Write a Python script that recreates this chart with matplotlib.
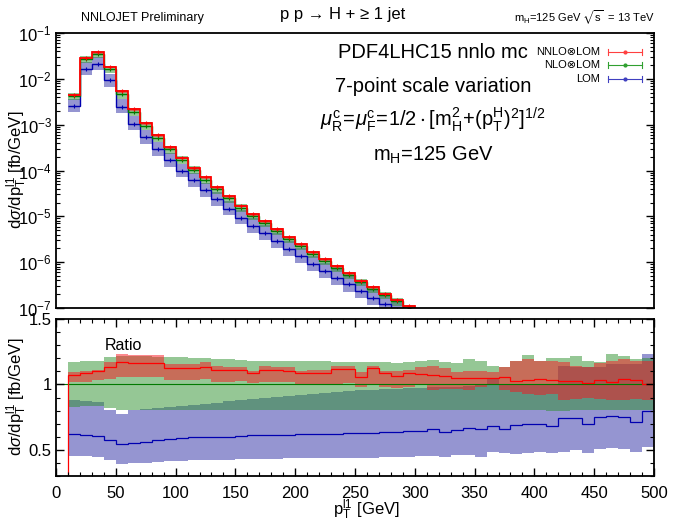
import numpy as np
import matplotlib
matplotlib.use('Agg')
import matplotlib.pyplot as plt
from matplotlib.ticker import (MultipleLocator, LogLocator, FixedLocator,
                               NullFormatter, FuncFormatter)

plt.rcParams['font.family'] = ['Liberation Sans', 'DejaVu Sans']
plt.rcParams['mathtext.fontset'] = 'custom'
plt.rcParams['mathtext.rm'] = 'Liberation Sans'
plt.rcParams['mathtext.it'] = 'Liberation Sans:italic'
plt.rcParams['mathtext.bf'] = 'Liberation Sans:bold'
plt.rcParams['mathtext.fallback'] = 'stixsans'

# ---------------- data ----------------
# pT bin edges (GeV), 10 GeV bins from 10 to 500
pt_edges = np.arange(10, 510, 10)

# NLO central cross section (fb/GeV) for the bins shown in the upper panel (10..310 GeV)
nlo_xs = [4.17e-3, 2.69e-2, 3.43e-2, 1.62e-2, 4.57e-3, 1.91e-3, 9.5e-4, 5.1e-4,
          2.9e-4, 1.7e-4, 1.02e-4, 6.2e-5, 3.9e-5, 2.45e-5, 1.55e-5, 1.02e-5,
          7.1e-6, 4.8e-6, 3.2e-6, 2.25e-6, 1.5e-6, 1.05e-6, 7.4e-7, 5.2e-7,
          3.7e-7, 2.6e-7, 1.9e-7, 1.4e-7, 1.0e-7, 7.2e-8]

# ratios to NLO central, 49 bins 10..500 GeV
ratio_nnlo = [1.073, 1.085, 1.100, 1.136, 1.169, 1.161, 1.161, 1.161, 1.126, 1.126,
              1.126, 1.136, 1.110, 1.110, 1.110, 1.090, 1.110, 1.110, 1.105, 1.085,
              1.085, 1.090, 1.116, 1.116, 1.055, 1.126, 1.085, 1.068, 1.085, 1.080,
              1.073, 1.068, 1.050, 1.050, 1.047, 1.047, 1.055, 1.025, 1.030, 1.043,
              1.030, 1.025, 1.025, 1.012, 1.030, 1.017, 1.043, 1.035, 1.005]
ratio_nnlo_bin0 = 0.0   # 0-10 GeV bin (drawn below the axis range)
ratio_nnlo_hi = [1.093, 1.100, 1.111, 1.169, 1.232, 1.227, 1.227, 1.227, 1.156, 1.156,
                 1.156, 1.169, 1.143, 1.136, 1.136, 1.105, 1.143, 1.136, 1.131, 1.105,
                 1.111, 1.111, 1.143, 1.143, 1.093, 1.143, 1.105, 1.105, 1.111, 1.131,
                 1.143, 1.126, 1.093, 1.105, 1.105, 1.093, 1.136, 1.176, 1.194, 1.176,
                 1.181, 1.169, 1.143, 1.136, 1.160, 1.181, 1.194, 1.181, 1.181]
ratio_nnlo_lo = [1.017, 1.022, 1.030, 1.042, 1.060, 1.055, 1.055, 1.055, 1.030, 1.030,
                 1.030, 1.042, 1.017, 1.017, 1.025, 1.010, 1.017, 1.017, 1.017, 1.000,
                 1.000, 1.000, 1.004, 1.010, 0.979, 1.000, 0.984, 0.974, 0.984, 0.992,
                 0.959, 0.967, 0.967, 0.959, 0.979, 0.992, 0.954, 0.941, 0.929, 0.916,
                 0.929, 0.883, 0.891, 0.898, 0.891, 0.883, 0.878, 0.891, 0.878]

ratio_nlo = [1.0] * 50   # 0..500 GeV
ratio_nlo_hi = [1.169, 1.176, 1.176, 1.206, 1.219, 1.219, 1.219, 1.212, 1.206, 1.206,
                1.201, 1.199, 1.194, 1.194, 1.186, 1.181, 1.181, 1.181, 1.176, 1.176,
                1.176, 1.181, 1.169, 1.169, 1.169, 1.169, 1.169, 1.161, 1.169, 1.176,
                1.186, 1.169, 1.161, 1.194, 1.176, 1.143, 1.136, 1.181, 1.224, 1.181,
                1.199, 1.199, 1.219, 1.181, 1.169, 1.232, 1.219, 1.194, 1.200]
ratio_nlo_lo = [0.828, 0.833, 0.833, 0.823, 0.807, 0.807, 0.807, 0.807, 0.807, 0.807,
                0.807, 0.807, 0.807, 0.807, 0.807, 0.807, 0.807, 0.807, 0.807, 0.807,
                0.807, 0.807, 0.807, 0.807, 0.807, 0.807, 0.807, 0.807, 0.807, 0.807,
                0.807, 0.807, 0.807, 0.807, 0.807, 0.807, 0.807, 0.807, 0.807, 0.807,
                0.800, 0.800, 0.807, 0.807, 0.807, 0.807, 0.807, 0.807, 0.807]

ratio_lo = [0.621, 0.613, 0.605, 0.575, 0.545, 0.555, 0.563, 0.575, 0.580, 0.588,
            0.595, 0.595, 0.600, 0.600, 0.605, 0.611, 0.611, 0.613, 0.616, 0.618,
            0.618, 0.621, 0.621, 0.631, 0.626, 0.631, 0.636, 0.638, 0.641, 0.646,
            0.656, 0.636, 0.651, 0.664, 0.656, 0.681, 0.656, 0.689, 0.696, 0.701,
            0.681, 0.747, 0.747, 0.701, 0.752, 0.757, 0.752, 0.714, 0.797]
ratio_lo_hi = [0.878, 0.873, 0.866, 0.802, 0.777, 0.802, 0.813, 0.820, 0.828, 0.835,
               0.845, 0.853, 0.861, 0.871, 0.878, 0.886, 0.896, 0.903, 0.911, 0.921,
               0.929, 0.934, 0.941, 0.949, 0.954, 0.959, 0.964, 0.967, 0.972, 0.974,
               0.979, 0.984, 0.984, 0.989, 0.992, 1.042, 0.992, 1.000, 1.000, 1.004,
               1.004, 1.143, 1.136, 1.136, 1.131, 1.156, 1.156, 1.156, 1.232]
ratio_lo_lo = [0.454, 0.454, 0.449, 0.419, 0.393, 0.398, 0.403, 0.408, 0.411, 0.416,
               0.419, 0.421, 0.424, 0.426, 0.429, 0.429, 0.431, 0.431, 0.434, 0.434,
               0.436, 0.436, 0.439, 0.439, 0.436, 0.441, 0.449, 0.449, 0.449, 0.454,
               0.454, 0.449, 0.462, 0.462, 0.449, 0.487, 0.474, 0.469, 0.479, 0.487,
               0.474, 0.487, 0.499, 0.479, 0.504, 0.512, 0.504, 0.487, 0.525]

legend_labels = ['NNLO\u2297LOM', 'NLO\u2297LOM', 'LOM']

# ---------------- styling ----------------
RED_BAND = (250/255, 20/255, 30/255)
GREEN_BAND = (45/255, 145/255, 45/255)
BLUE_BAND = (45/255, 45/255, 165/255)
RED_LINE = '#ff0000'
GREEN_LINE = '#007a00'
BLUE_LINE = '#0000b0'
BAND_ALPHA = 0.5

W, H = 675, 525
fig = plt.figure(figsize=(W/100, H/100), dpi=100)


def px_rect(l, t, r, b):
    return [l/W, 1 - b/H, (r - l)/W, (b - t)/H]


ax1 = fig.add_axes(px_rect(56, 33, 654, 308))
ax2 = fig.add_axes(px_rect(56, 319, 654, 476))

# ---------------- upper panel ----------------
n_up = len(nlo_xs)
e_up = pt_edges[:n_up + 1]
nlo = np.array(nlo_xs)
centers = 0.5 * (e_up[:-1] + e_up[1:])

series = [
    (np.array(ratio_lo[:n_up]), np.array(ratio_lo_lo[:n_up]), np.array(ratio_lo_hi[:n_up]), BLUE_BAND, BLUE_LINE, 1.0),
    (np.array(ratio_nlo[1:n_up + 1]), np.array(ratio_nlo_lo[:n_up]), np.array(ratio_nlo_hi[:n_up]), GREEN_BAND, GREEN_LINE, 1.0),
    (np.array(ratio_nnlo[:n_up]), np.array(ratio_nnlo_lo[:n_up]), np.array(ratio_nnlo_hi[:n_up]), RED_BAND, RED_LINE, 1.3),
]
for r, lo, hi, bc, lc, lw in series:
    ax1.stairs(nlo * hi, e_up, baseline=nlo * lo, fill=True, color=bc, alpha=BAND_ALPHA, lw=0)
for r, lo, hi, bc, lc, lw in series:
    ax1.stairs(nlo * r, e_up, baseline=None, color=lc, lw=lw)
    ax1.plot(centers, nlo * r, ls='none', marker='+', ms=3.5, mew=0.8, color=lc)

ax1.set_yscale('log')
ax1.set_xlim(0, 500)
ax1.set_ylim(1e-7, 1e-1)
ax1.yaxis.set_major_locator(LogLocator(base=10, numticks=12))
ax1.yaxis.set_minor_locator(LogLocator(base=10, subs=np.arange(2, 10), numticks=12))
ax1.yaxis.set_minor_formatter(NullFormatter())
ax1.tick_params(axis='x', which='both', bottom=False, top=False, labelbottom=False)
ax1.tick_params(axis='y', which='both', direction='in', left=True, right=True, labelsize=12, pad=3)
ax1.tick_params(axis='y', which='major', length=6, width=1)
ax1.tick_params(axis='y', which='minor', length=3, width=0.8)

# text block
tx = 433 / W
fig.text(tx, 1 - 52/H, 'PDF4LHC15 nnlo mc', ha='center', va='center', fontsize=14.5)
fig.text(tx, 1 - 86/H, '7-point scale variation', ha='center', va='center', fontsize=14.5)
fig.text(tx, 1 - 120/H,
         r'$\mu_{\rm R}^{\rm c}\!=\!\mu_{\rm F}^{\rm c}\!=\!\mathrm{1/2}\cdot[\mathrm{m}_{\rm H}^{2}\!+\!(\mathrm{p}_{\rm T}^{\rm H})^{2}]^{1/2}$',
         ha='center', va='center', fontsize=14.5)
fig.text(tx, 1 - 155/H, r'$\mathrm{m_H}$=125 GeV', ha='center', va='center', fontsize=14.5)

# legend (gnuplot style keys)
leg_colors = ['#ff4040', '#30a030', '#4040c0']
leg_y = [52, 65, 79]
for lab, c, yy in zip(legend_labels, leg_colors, leg_y):
    yf = 1 - yy/H
    fig.text(600/W, yf, lab, ha='right', va='center', fontsize=8)
    x0, x1 = 608/W, 642/W
    fig.add_artist(plt.Line2D([x0, x1], [yf, yf], transform=fig.transFigure, color=c, lw=0.8))
    for xe in (x0, x1):
        fig.add_artist(plt.Line2D([xe, xe], [yf - 3/H, yf + 3/H], transform=fig.transFigure, color=c, lw=0.8))
    fig.add_artist(plt.Line2D([(x0 + x1)/2], [yf], transform=fig.transFigure, color=c, marker='o', ms=2, ls='none'))

# ---------------- lower panel ----------------
e_r = pt_edges
ax2.stairs(ratio_lo_hi, e_r, baseline=ratio_lo_lo, fill=True, color=BLUE_BAND, alpha=BAND_ALPHA, lw=0)
ax2.stairs(ratio_nlo_hi, e_r, baseline=ratio_nlo_lo, fill=True, color=GREEN_BAND, alpha=BAND_ALPHA, lw=0)
ax2.stairs(ratio_nnlo_hi, e_r, baseline=ratio_nnlo_lo, fill=True, color=RED_BAND, alpha=BAND_ALPHA, lw=0)

e_full = np.r_[0, pt_edges]
ax2.stairs(ratio_nlo, e_full, baseline=None, color=GREEN_LINE, lw=0.8)
ax2.stairs(ratio_lo, e_r, baseline=None, color=BLUE_LINE, lw=0.9)
ax2.stairs(np.r_[ratio_nnlo_bin0, ratio_nnlo], e_full, baseline=None, color=RED_LINE, lw=0.9)

ax2.set_xlim(0, 500)
ax2.set_ylim(0.3, 1.5)
ax2.xaxis.set_major_locator(MultipleLocator(50))
ax2.xaxis.set_minor_locator(MultipleLocator(10))
ax2.yaxis.set_major_locator(FixedLocator([0.5, 1.0, 1.5]))
ax2.yaxis.set_minor_locator(MultipleLocator(0.1))
ax2.yaxis.set_major_formatter(FuncFormatter(lambda v, p: '%g' % v))
ax2.tick_params(axis='both', which='both', direction='in', top=True, right=True, labelsize=12)
ax2.tick_params(axis='both', which='major', length=6, width=1)
ax2.tick_params(axis='both', which='minor', length=3, width=0.8)
ax2.tick_params(axis='x', pad=7)
ax2.tick_params(axis='y', pad=3)
fig.text(105/W, 1 - 346/H, 'Ratio', ha='left', va='center', fontsize=11.5)

for ax in (ax1, ax2):
    for s in ax.spines.values():
        s.set_linewidth(1.3)

# axis labels
ylab = r'd$\sigma$/dp$_{\rm T}^{\rm l1}$ [fb/GeV]'
fig.text(17/W, 1 - 170/H, ylab, rotation=90, ha='center', va='center', fontsize=12)
fig.text(17/W, 1 - 397/H, ylab, rotation=90, ha='center', va='center', fontsize=12)
fig.text(366/W, 1 - 510/H, r'p$_{\rm T}^{\rm l1}$ [GeV]', ha='center', va='center', fontsize=12)

# header texts
fig.text(142/W, 1 - 18/H, 'NNLOJET Preliminary', ha='center', va='center', fontsize=9,
         family=['Liberation Sans Narrow', 'Liberation Sans', 'DejaVu Sans'])
fig.text(343/W, 1 - 14/H, 'p p \u2192 H + \u2265 1 jet', ha='center', va='center', fontsize=12)
fig.text(655/W, 1 - 18/H, r'm$_{\rm H}$=125 GeV $\sqrt{\rm s}$  = 13 TeV', ha='right', va='center', fontsize=8)

fig.savefig('out.png', dpi=100)
